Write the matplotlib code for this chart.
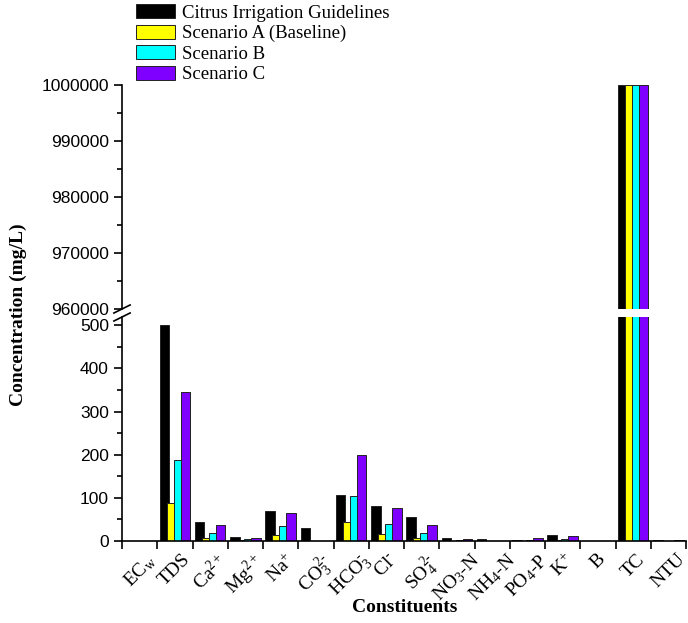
import numpy as np
import matplotlib
matplotlib.use("Agg")
import matplotlib.pyplot as plt
from matplotlib.ticker import MultipleLocator, ScalarFormatter

plt.rcParams["mathtext.fontset"] = "custom"
plt.rcParams["mathtext.rm"] = "Liberation Serif"
plt.rcParams["mathtext.it"] = "Liberation Serif:italic"
plt.rcParams["mathtext.bf"] = "Liberation Serif:bold"

categories = [
    r"EC$_\mathrm{w}$", "TDS", r"Ca$^{2+}$", r"Mg$^{2+}$", r"Na$^{+}$",
    r"CO$_3^{2\text{-}}$", r"HCO$_3^{\text{-}}$", r"Cl$^{\text{-}}$",
    r"SO$_4^{2\text{-}}$", r"NO$_3$-N", r"NH$_4$-N", r"PO$_4$-P", r"K$^{+}$",
    "B", "TC", "NTU",
]
series_names = [
    "Citrus Irrigation Guidelines",
    "Scenario A (Baseline)",
    "Scenario B",
    "Scenario C",
]
guidelines = [0, 500, 43, 9, 70, 31, 106, 81, 56, 8, 5, 2, 13, 0, 1000000, 3]
scenario_a = [0, 87, 7, 3, 15, 0, 44, 16, 7, 1, 1, 1, 3, 0, 1000000, 1]
scenario_b = [0, 187, 18, 5, 35, 0, 104, 40, 19, 2, 1, 2, 5, 0, 1000000, 1]
scenario_c = [0, 345, 38, 8, 66, 0, 200, 76, 37, 4, 1, 7, 12, 0, 1000000, 2]
colors = ["#000000", "#ffff00", "#00ffff", "#8000ff"]

W, H = 688, 623
fig = plt.figure(figsize=(W / 100, H / 100), dpi=100)

left, right = 122 / W, 686 / W
ax_lo = fig.add_axes([left, 1 - 541 / H, right - left, 224 / H])
ax_hi = fig.add_axes([left, 1 - 309 / H, right - left, 224 / H], sharex=ax_lo)

x = np.arange(len(categories))
step = 0.2
width = 0.27
all_series = [guidelines, scenario_a, scenario_b, scenario_c]
for ax in (ax_lo, ax_hi):
    for i, (vals, col) in enumerate(zip(all_series, colors)):
        ax.bar(x + (i - 1.5) * step, vals, width, color=col,
               edgecolor="#222222", linewidth=0.7, label=series_names[i])

ax_lo.set_ylim(0, 519)
ax_hi.set_ylim(960000, 1000000)
ax_lo.set_xlim(-0.5, len(categories) - 0.5)

fmt = ScalarFormatter(useOffset=False)
fmt.set_scientific(False)
ax_hi.yaxis.set_major_formatter(fmt)

ax_lo.yaxis.set_major_locator(MultipleLocator(100))
ax_lo.yaxis.set_minor_locator(MultipleLocator(50))
ax_hi.yaxis.set_major_locator(MultipleLocator(10000))
ax_hi.yaxis.set_minor_locator(MultipleLocator(5000))

for ax in (ax_lo, ax_hi):
    for s in ("top", "right"):
        ax.spines[s].set_visible(False)
    ax.spines["left"].set_linewidth(1.2)
    ax.tick_params(axis="y", direction="out", length=6, width=1.2,
                   labelsize=12.5, labelfontfamily="Liberation Sans")
    ax.tick_params(axis="y", which="minor", direction="out", length=3.5,
                   width=1.2)

ax_hi.spines["bottom"].set_visible(False)
ax_hi.tick_params(axis="x", which="both", bottom=False, labelbottom=False)

ax_lo.spines["bottom"].set_linewidth(1.2)
ax_lo.set_xticks(np.arange(-0.5, len(categories)), labels=[])
ax_lo.set_xticks(x, labels=categories, minor=True)
ax_lo.tick_params(axis="x", which="major", direction="out", length=6, width=1.2)
ax_lo.tick_params(axis="x", which="minor", length=0, pad=7)
for lab in ax_lo.get_xticklabels(minor=True):
    lab.set_fontfamily("Liberation Serif")
    lab.set_fontsize(14)
    lab.set_rotation(45)
    lab.set_ha("center")

# break marks on the left spine
d = 0.012
kw = dict(color="k", clip_on=False, linewidth=1.2)
ax_lo.plot((-d * 1.2, d * 1.2), (1 - d * 1.5, 1 + d * 1.5),
           transform=ax_lo.transAxes, **kw)
ax_hi.plot((-d * 1.2, d * 1.2), (-d * 1.5, d * 1.5),
           transform=ax_hi.transAxes, **kw)

fig.text(18 / W, 1 - 315 / H, "Concentration (mg/L)", rotation=90,
         ha="center", va="center", fontsize=14, fontweight="bold",
         family="Liberation Serif")
fig.text(405 / W, 1 - 608 / H, "Constituents", ha="center", va="center",
         fontsize=14, fontweight="bold", family="Liberation Serif")

handles, labels = ax_lo.get_legend_handles_labels()
fig.legend(handles, labels, loc="upper left", bbox_to_anchor=(136 / W, 1 - 4 / H),
           frameon=False, prop={"family": "Liberation Serif", "size": 13.5},
           handlelength=2.1, handleheight=0.8, handletextpad=0.35,
           labelspacing=0.15, borderpad=0, borderaxespad=0)

fig.savefig("out.png", dpi=100)
